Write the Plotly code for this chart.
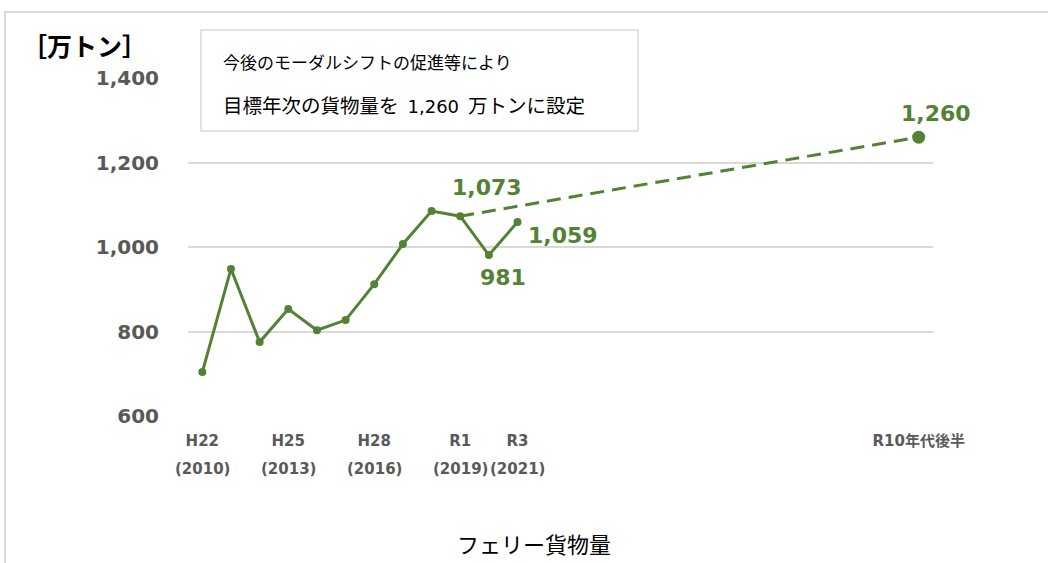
import plotly.graph_objects as go

# フェリー貨物量（万トン）の実績と目標
years = [2010, 2011, 2012, 2013, 2014, 2015, 2016, 2017, 2018, 2019, 2020, 2021]
cargo = [704, 948, 775, 853, 803, 827, 912, 1007, 1085, 1073, 981, 1059]
target_label = "R10年代後半"
target_value = 1260
target_pos = 25  # slot on the year axis for the target period

tick_years = [2010, 2013, 2016, 2019, 2021]
tick_era = ["H22", "H25", "H28", "R1", "R3"]
tick_ce = ["(2010)", "(2013)", "(2016)", "(2019)", "(2021)"]

y_ticks = [600, 800, 1000, 1200, 1400]

GREEN = "#548235"
GRAY = "#595959"
GRID = "#d9d9d9"
LATIN = "DejaVu Sans, Noto Sans CJK JP, sans-serif"
CJK = "Noto Sans CJK JP, sans-serif"

W, H = 1048, 563
L, R, T, B = 188, 115, 78, 147
PW, PH = W - L - R, H - T - B


def px(xp):
    return (xp - L) / PW


def py(yp):
    return (H - B - yp) / PH


xpos = [y - years[0] for y in years]

fig = go.Figure()

# dashed projection from R1 to the target
i_r1 = years.index(2019)
fig.add_trace(go.Scatter(
    x=[xpos[i_r1], target_pos], y=[cargo[i_r1], target_value],
    mode="lines", line=dict(color=GREEN, width=3, dash="14px,8px"),
    hoverinfo="skip", showlegend=False))

# actual values
fig.add_trace(go.Scatter(
    x=xpos, y=cargo, mode="lines+markers",
    line=dict(color=GREEN, width=3),
    marker=dict(color=GREEN, size=8),
    showlegend=False))

# target point
fig.add_trace(go.Scatter(
    x=[target_pos], y=[target_value], mode="markers",
    marker=dict(color=GREEN, size=13), showlegend=False))

# value labels
label_font = dict(family=LATIN, size=22, color=GREEN, weight="bold")
i_20 = years.index(2020)
i_21 = years.index(2021)
for xv, yv, dx, dy in [
    (xpos[i_r1], cargo[i_r1], 27, 29),
    (xpos[i_20], cargo[i_20], 14, -22),
    (xpos[i_21], cargo[i_21], 45, -13),
    (target_pos, target_value, 17, 24),
]:
    fig.add_annotation(x=xv, y=yv, xref="x", yref="y", text=f"{yv:,}",
                       showarrow=False, xshift=dx, yshift=dy, font=label_font)

# second line of the x tick labels (western year)
for yr, t in zip(tick_years, tick_ce):
    fig.add_annotation(x=yr - years[0], y=py(469), xref="x", yref="paper",
                       text=t, showarrow=False, xanchor="center", yanchor="middle",
                       font=dict(family=LATIN, size=15, color=GRAY, weight="bold"))

# unit label
fig.add_annotation(x=px(85), y=py(45), xref="paper", yref="paper",
                   text="［万トン］", showarrow=False, xanchor="center", yanchor="middle",
                   font=dict(family=CJK, size=25, color="#000000", weight="bold"))

# note box
fig.add_shape(type="rect", xref="paper", yref="paper",
              x0=px(201), x1=px(638), y0=py(131), y1=py(30),
              fillcolor="white", line=dict(color=GRID, width=1.5), layer="above")
note_lines = [
    (63, 17, "今後のモーダルシフトの促進等により"),
    (106, 19.5, "目標年次の貨物量を<span style='font-size:18px'>\u20021,260\u2002</span>万トンに設定"),
]
for yp, fs, t in note_lines:
    fig.add_annotation(x=px(221), y=py(yp), xref="paper", yref="paper",
                       text=t, showarrow=False, xanchor="left", yanchor="middle",
                       font=dict(family=LATIN, size=fs, color="#000000"))

# chart title
fig.add_annotation(x=px(534), y=py(543), xref="paper", yref="paper",
                   text="フェリー貨物量", showarrow=False, xanchor="center", yanchor="middle",
                   font=dict(family=CJK, size=22, color="#000000"))

# outer frame
fig.add_shape(type="rect", xref="paper", yref="paper",
              x0=px(5), x1=px(W + 20), y0=py(H + 20), y1=py(12),
              line=dict(color=GRID, width=2), fillcolor="rgba(0,0,0,0)", layer="below")

fig.update_layout(
    width=W, height=H,
    margin=dict(l=L, r=R, t=T, b=B),
    paper_bgcolor="white", plot_bgcolor="white",
    xaxis=dict(
        range=[-0.5, target_pos + 0.5],
        tickmode="array",
        tickvals=[y - years[0] for y in tick_years] + [target_pos],
        ticktext=tick_era + [target_label],
        tickfont=dict(family=LATIN, size=15, color=GRAY, weight="bold"),
        showgrid=False, zeroline=False, showline=False,
        ticks="", ticklabelstandoff=14,
    ),
    yaxis=dict(
        range=[600, 1400],
        tickmode="array", tickvals=y_ticks,
        ticktext=[f"{v:,}" for v in y_ticks],
        tickfont=dict(family=LATIN, size=20, color=GRAY, weight="bold"),
        showgrid=True, gridcolor=GRID, gridwidth=2,
        zeroline=False, showline=False, ticks="", ticklabelstandoff=28,
    ),
)

fig.write_html("out.html")
